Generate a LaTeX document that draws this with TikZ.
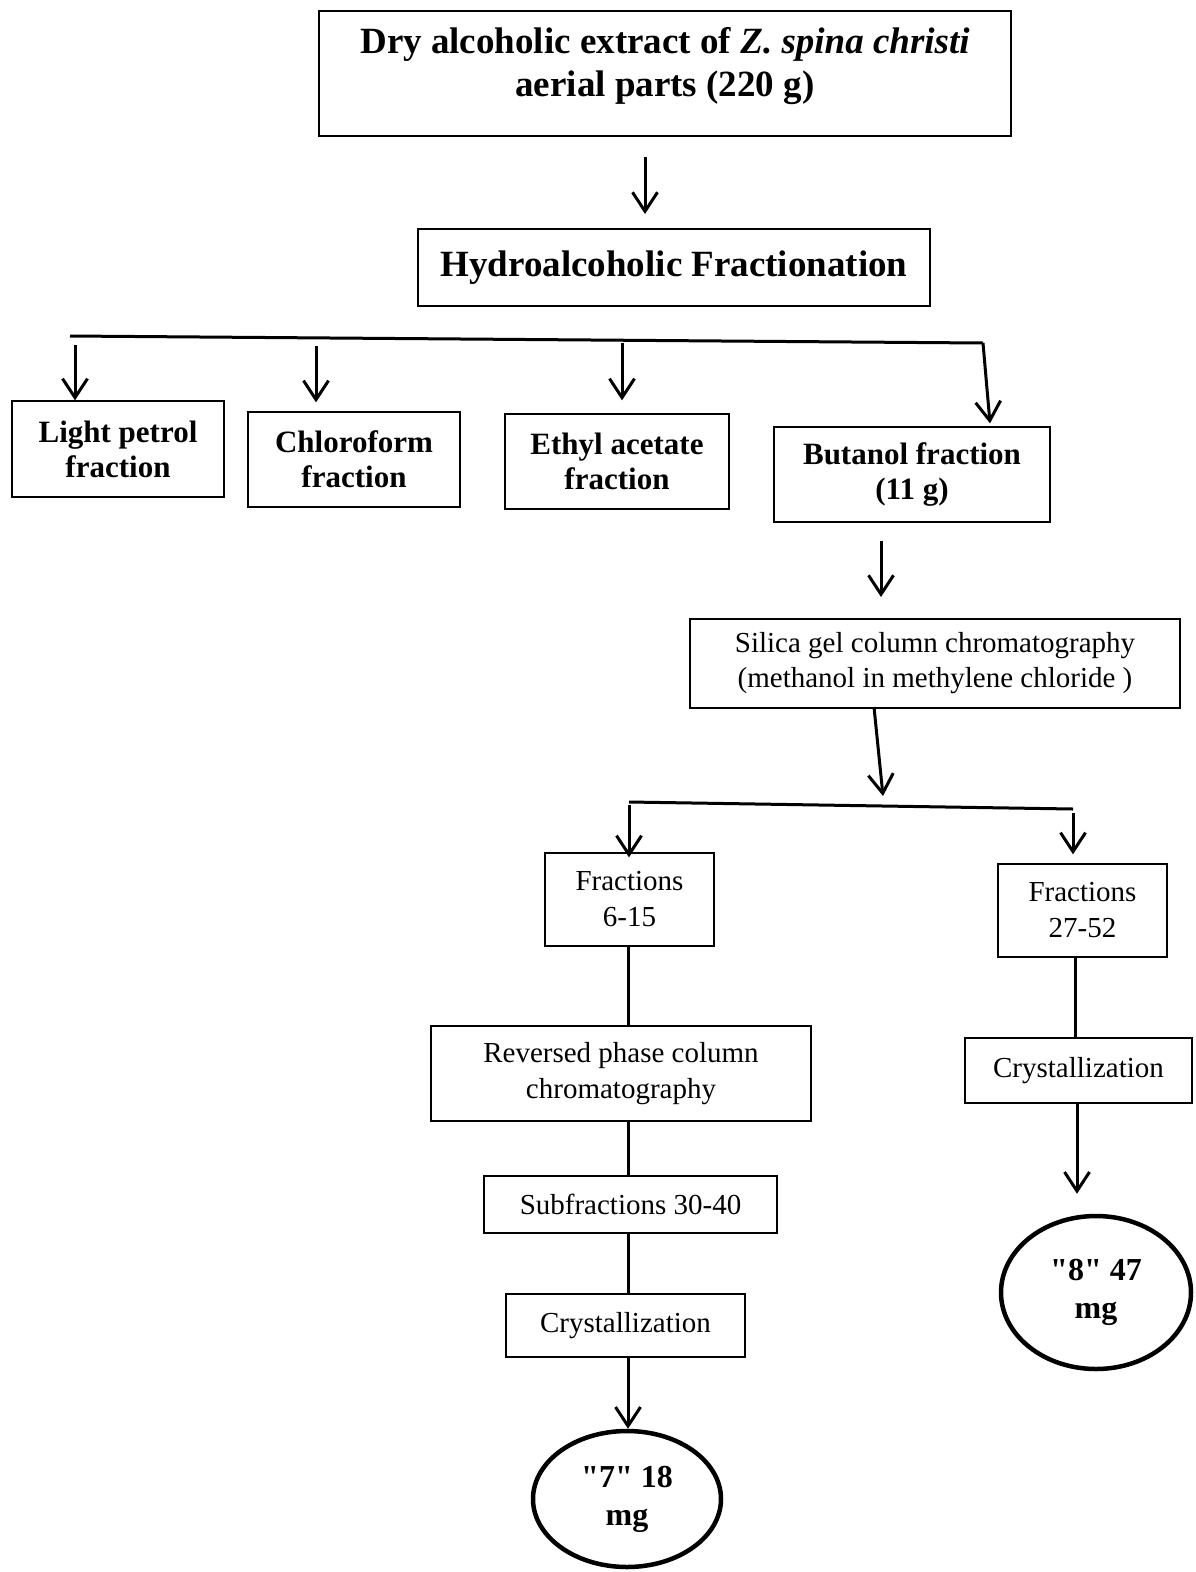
\documentclass[tikz,border=0pt]{standalone}
\usepackage{fontspec}
\setmainfont{Liberation Serif}
\usetikzlibrary{arrows.meta,shapes.geometric}
\begin{document}
\begin{tikzpicture}[x=1pt,y=-1pt,
 box/.style={draw, line width=1.3pt, inner sep=0pt, align=center},
 bt/.style={font=\bfseries\fontsize{31}{35}\selectfont},
 big/.style={font=\bfseries\fontsize{37}{43}\selectfont},
 rt/.style={font=\fontsize{29}{35}\selectfont},
 arr/.style={line width=3pt, -{Straight Barb[length=19pt,width=25pt,line width=3pt]}},
 ln/.style={line width=3pt},
 res/.style={draw, ellipse, line width=4.5pt, inner sep=0pt, align=center, font=\bfseries\fontsize{32}{38}\selectfont}]
\useasboundingbox (0,0) rectangle (1195,1572);

% boxes
\node[box, minimum width=692pt, minimum height=125pt] (top) at (665,73.5) {};
\node[big, align=center] (toptxt) at (665,66) {Dry alcoholic extract of \textit{Z. spina christi}\\aerial parts (220 g)};
\node[box, big, minimum width=512pt, minimum height=77pt] (hyd) at (674,267.5) {Hydroalcoholic Fractionation};
\node[box, bt, minimum width=212pt, minimum height=96pt] (lp) at (118,449) {Light petrol\\fraction};
\node[box, bt, minimum width=212pt, minimum height=95pt] (chl) at (354,459.5) {Chloroform\\fraction};
\node[box, bt, minimum width=224pt, minimum height=95pt] (eth) at (617,461.5) {Ethyl acetate\\fraction};
\node[box, bt, minimum width=276pt, minimum height=95pt] (but) at (912,474.5) {Butanol fraction\\(11 g)};
\node[box, rt, minimum width=490pt, minimum height=89pt] (sil) at (935,663.5) {Silica gel column chromatography\\(methanol in methylene chloride )};
\node[box, rt, font=\fontsize{29}{36}\selectfont, minimum width=169pt, minimum height=93pt] (f1) at (629.5,899.5) {Fractions\\6-15};
\node[box, rt, font=\fontsize{29}{36}\selectfont, minimum width=169pt, minimum height=93pt] (f2) at (1082.5,910.5) {Fractions\\27-52};
\node[box, rt, font=\fontsize{29}{36}\selectfont, minimum width=380pt, minimum height=95pt] (rev) at (621,1073.5) {Reversed phase column\\chromatography};
\node[box, rt, minimum width=293pt, minimum height=57pt] (sub) at (630.5,1204.5) {Subfractions 30-40};
\node[box, rt, minimum width=239pt, minimum height=63pt] (cr1) at (625.5,1325.5) {Crystallization};
\node[box, rt, minimum width=227pt, minimum height=65pt] (cr2) at (1078.5,1070.5) {Crystallization};
\node[res, minimum width=188pt, minimum height=136pt] (e7) at (627,1499) {\textquotedbl7\textquotedbl{} 18\\mg};
\node[res, minimum width=190pt, minimum height=153pt] (e8) at (1096,1292.5) {\textquotedbl8\textquotedbl{} 47\\mg};

% coordinates
\coordinate (t1) at (645,157);
\coordinate (t2) at (645,214);
\coordinate (b1L) at (70,336);
\coordinate (b1R) at (983,343);
\coordinate (a1) at (75,345);
\coordinate (a2) at (316,346);
\coordinate (a3) at (622,343);
\coordinate (a4) at (990,0);
\coordinate (u1) at (881,541);
\coordinate (u2) at (881,597);
\coordinate (s1) at (874,707);
\coordinate (s2) at (883,796);
\coordinate (b2L) at (629,802);
\coordinate (b2R) at (1073,809);
\coordinate (c1) at (629,805);
\coordinate (c2) at (1073,813);
\coordinate (xL) at (628,0);
\coordinate (xR) at (1075,0);
\coordinate (xR2) at (1077,0);

% connectors
\draw[arr] (t1) -- (t2);
\draw[ln] (b1L) -- (b1R);
\draw[arr] (a1) -- (a1 |- lp.north);
\draw[arr] (a2) -- ([yshift=9pt]a2 |- chl.north);
\draw[arr] (a3) -- ([yshift=13pt]a3 |- eth.north);
\draw[arr] (b1R) -- ([yshift=3pt]a4 |- but.north);
\draw[arr] (u1) -- (u2);
\draw[arr] (s1) -- (s2);
\draw[ln] (b2L) -- (b2R);
\draw[arr] (c1) -- ([yshift=-5pt]c1 |- f1.north);
\draw[arr] (c2) -- ([yshift=9pt]c2 |- f2.north);
\draw[ln] (f1.south -| xL) -- (rev.north -| xL);
\draw[ln] (rev.south -| xL) -- (sub.north -| xL);
\draw[ln] (sub.south -| xL) -- (cr1.north -| xL);
\draw[arr] (cr1.south -| xL) -- (e7.north -| xL);
\draw[ln] (f2.south -| xR) -- (cr2.north -| xR);
\draw[arr] (cr2.south -| xR2) -- ([yshift=20pt]e8.north -| xR2);
\end{tikzpicture}
\end{document}
